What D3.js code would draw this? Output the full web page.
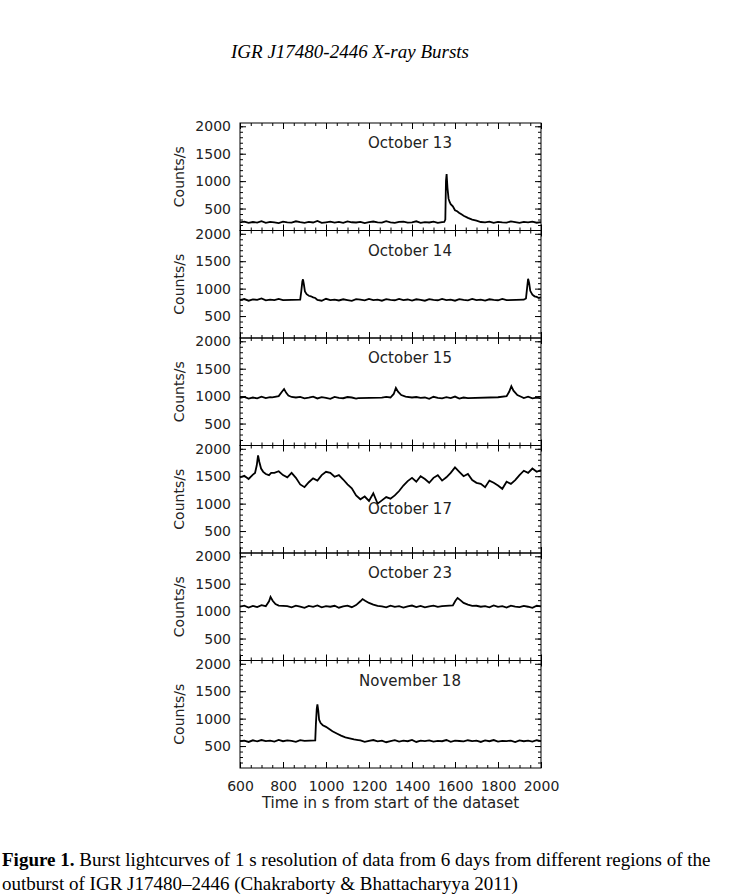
<!DOCTYPE html>
<html><head><meta charset="utf-8">
<script src="https://cdn.jsdelivr.net/npm/d3@7"></script>
<style>body{margin:0;background:#fff}</style>
</head><body><div id="chart"></div>
<script>
// light curves, 20 s samples from 600 to 2000 s, plus finer points through the bursts
const panels = [
  {label:'October 13', labelY:20,
   base:[250,262,238,255,245,270,240,258,248,236,262,250,244,268,252,240,256,246,274,238,250,262,244,256,240,266,250,246,258,236,252,264,248,242,270,250,238,256,262,244,250,268,240,254,246,260,238,252,0,0,0,0,0,0,0,0,255,248,262,240,258,250,244,266,252,238,256,248,260,242,254],
   burst:[[1550,255],[1555,300],[1558,1000],[1561,1130],[1565,880],[1570,680],[1575,620],[1580,580],[1590,540],[1600,470],[1610,450],[1620,420],[1630,395],[1640,370],[1660,330],[1680,300],[1700,280]]},
  {label:'October 14', labelY:20,
   base:[790,810,780,805,795,820,785,800,790,812,780,0,0,0,0,0,0,810,795,780,815,790,800,784,806,792,778,810,798,786,812,790,800,780,808,796,788,814,790,802,782,806,794,780,810,796,788,812,790,800,780,808,794,786,814,790,800,782,806,796,788,812,790,0,0,0,0,0,0,0,0],
   burst:[[800,792],[880,800],[885,950],[890,1130],[893,1170],[897,1080],[902,950],[910,900],[920,870],[930,860],[940,840],[950,830],[1920,798],[1930,820],[1935,1000],[1940,1180],[1945,1100],[1950,960],[1960,890],[1970,860],[1980,850],[1990,830],[2000,840]]},
  {label:'October 15', labelY:20,
   base:[970,985,955,975,960,990,965,980,0,0,0,0,950,975,985,960,972,990,958,980,968,952,986,970,962,984,975,955,0,0,0,0,0,972,985,958,970,990,962,976,955,984,968,975,950,988,970,960,980,965,992,955,975,968,0,0,0,0,0,0,970,985,958,975,948,980,965,990,958,972,960],
   burst:[[750,978],[780,1000],[795,1080],[805,1130],[815,1060],[825,1010],[840,985],[1150,965],[1300,975],[1315,1040],[1325,1150],[1335,1080],[1350,1020],[1370,990],[1400,975],[1660,965],[1800,980],[1840,1000],[1852,1080],[1862,1180],[1872,1100],[1890,1020],[1910,985]]},
  {label:'October 17', labelY:63,
   base:[1480,1510,1450,1530,0,0,0,0,1560,1590,1520,1480,1560,1470,1350,1300,1390,1460,1420,1520,1580,1560,1490,1520,1440,1350,1280,1150,1080,1130,1050,1190,1000,1060,1120,1090,1150,1230,1330,1410,1470,1400,1500,1450,1380,1470,1520,1420,1480,1560,1660,1580,1500,1540,1430,1380,1360,1300,1420,1380,1330,1270,1400,1360,1430,1520,1600,1560,1640,1580,1610],
   burst:[[660,1530],[670,1560],[678,1700],[684,1880],[690,1760],[698,1640],[708,1580],[720,1540],[735,1520],[745,1560]]},
  {label:'October 23', labelY:20,
   base:[1080,1100,1065,1095,1075,1110,1085,0,0,0,0,1090,1070,1100,1082,1060,1095,1078,1105,1068,1090,1080,1098,1062,1085,1100,1072,1092,0,0,0,0,0,1085,1070,1100,1078,1092,1064,1088,1102,1075,1095,1068,1085,1100,1078,1090,0,0,0,0,0,1085,1068,1098,1080,1092,1070,1105,1078,1090,1065,1100,1082,1072,1095,1080,1060,1098,1085],
   burst:[[720,1090],[735,1180],[742,1260],[752,1190],[765,1130],[780,1100],[1140,1110],[1160,1180],[1170,1220],[1182,1190],[1200,1150],[1220,1120],[1240,1095],[1590,1105],[1602,1190],[1612,1240],[1622,1210],[1640,1150],[1660,1120],[1680,1095]]},
  {label:'November 18', labelY:20,
   base:[590,600,575,605,585,610,590,598,580,612,588,602,595,578,608,590,0,0,0,0,0,0,0,0,0,0,0,588,602,578,596,610,585,600,570,592,608,582,598,588,612,575,600,590,605,580,596,588,610,578,600,592,584,606,590,598,575,602,588,610,582,596,590,600,572,604,588,598,580,606,590],
   burst:[[900,595],[950,605],[953,900],[957,1180],[960,1260],[964,1150],[968,980],[975,920],[985,880],[1000,850],[1015,810],[1030,770],[1050,730],[1070,690],[1090,660],[1110,640],[1130,620],[1150,610]]}
];

function series(p) {
  // burst lists for panels with several bursts are split where times jump
  const groups = [];
  p.burst.forEach((d,i) => {
    if (i === 0 || d[0] - p.burst[i-1][0] > 100) groups.push([]);
    groups[groups.length-1].push(d);
  });
  const inBurst = t => groups.some(g => t >= g[0][0] && t <= g[g.length-1][0]);
  const pts = p.base.map((v,i) => [600 + 20*i, v]).filter(d => !inBurst(d[0]) && d[1] > 0);
  return pts.concat(p.burst).sort((a,b) => a[0]-b[0]);
}

const W = 735, H = 896;
const margin = {left: 240, right: 194, top: 123};
const ph = 107.5, pw = W - margin.left - margin.right;

const svg = d3.select('#chart').append('svg').attr('width', W).attr('height', H)
  .style('font-family', 'DejaVu Sans');

svg.append('text').attr('x', 350).attr('y', 58).attr('text-anchor', 'middle')
  .style('font-family', 'Liberation Serif').style('font-style', 'italic').style('font-size', '19px')
  .text('IGR J17480-2446 X-ray Bursts');

const x = d3.scaleLinear().domain([600, 2000]).range([0, pw]);
const y = d3.scaleLinear().domain([100, 2060]).range([ph, 0]);

panels.forEach((p, k) => {
  const g = svg.append('g').attr('transform', `translate(${margin.left},${margin.top + k*ph})`);

  // ticks inward on all four sides
  const xMaj = d3.range(600, 2001, 200), xMin = d3.range(600, 2001, 50);
  const yMaj = [500, 1000, 1500, 2000], yMin = d3.range(200, 2001, 100);
  g.append('g').call(d3.axisBottom(x).tickValues(xMin).tickSize(-3).tickFormat(''))
    .attr('transform', `translate(0,${ph})`);
  g.append('g').call(d3.axisBottom(x).tickValues(xMaj).tickSize(-6).tickPadding(13).tickFormat(k === 5 ? d3.format('d') : ''))
    .attr('transform', `translate(0,${ph})`);
  g.append('g').call(d3.axisTop(x).tickValues(xMin).tickSize(-3).tickFormat(''));
  g.append('g').call(d3.axisTop(x).tickValues(xMaj).tickSize(-6).tickFormat(''));
  g.append('g').call(d3.axisLeft(y).tickValues(yMin).tickSize(-3).tickFormat(''));
  g.append('g').call(d3.axisLeft(y).tickValues(yMaj).tickSize(-6).tickPadding(9).tickFormat(d3.format('d')));
  g.append('g').attr('transform', `translate(${pw},0)`).call(d3.axisRight(y).tickValues(yMin).tickSize(-3).tickFormat(''));
  g.append('g').attr('transform', `translate(${pw},0)`).call(d3.axisRight(y).tickValues(yMaj).tickSize(-6).tickFormat(''));
  g.selectAll('.domain').remove();
  g.selectAll('.tick text').style('font-family', 'DejaVu Sans').style('font-size', '14px').attr('fill', '#222');
  g.selectAll('.tick line').attr('stroke', '#000');

  g.append('rect').attr('width', pw).attr('height', ph).attr('fill', 'none').attr('stroke', '#000');

  g.append('path').datum(series(p))
    .attr('d', d3.line().x(d => x(d[0])).y(d => y(d[1])))
    .attr('fill', 'none').attr('stroke', '#000').attr('stroke-width', 1.8);

  g.append('text').attr('x', 170).attr('y', p.labelY + 5).attr('text-anchor', 'middle')
    .style('font-size', '15px').attr('fill', '#222').text(p.label);

  g.append('text').attr('transform', `translate(-56,${ph/2}) rotate(-90)`).attr('text-anchor', 'middle')
    .style('font-size', '14px').attr('fill', '#222').text('Counts/s');
});

svg.append('text').attr('x', margin.left + pw/2).attr('y', 808).attr('text-anchor', 'middle')
  .style('font-size', '15px').attr('fill', '#222').text('Time in s from start of the dataset');

const cap = svg.append('g').style('font-family', 'Liberation Serif').style('font-size', '19px');
const l1 = cap.append('text').attr('x', 2).attr('y', 866);
l1.append('tspan').style('font-weight', 'bold').text('Figure 1.');
l1.append('tspan').text(' Burst lightcurves of 1 s resolution of data from 6 days from different regions of the');
cap.append('text').attr('x', 2).attr('y', 890).text('outburst of IGR J17480–2446 (Chakraborty & Bhattacharyya 2011)');
</script></body></html>
